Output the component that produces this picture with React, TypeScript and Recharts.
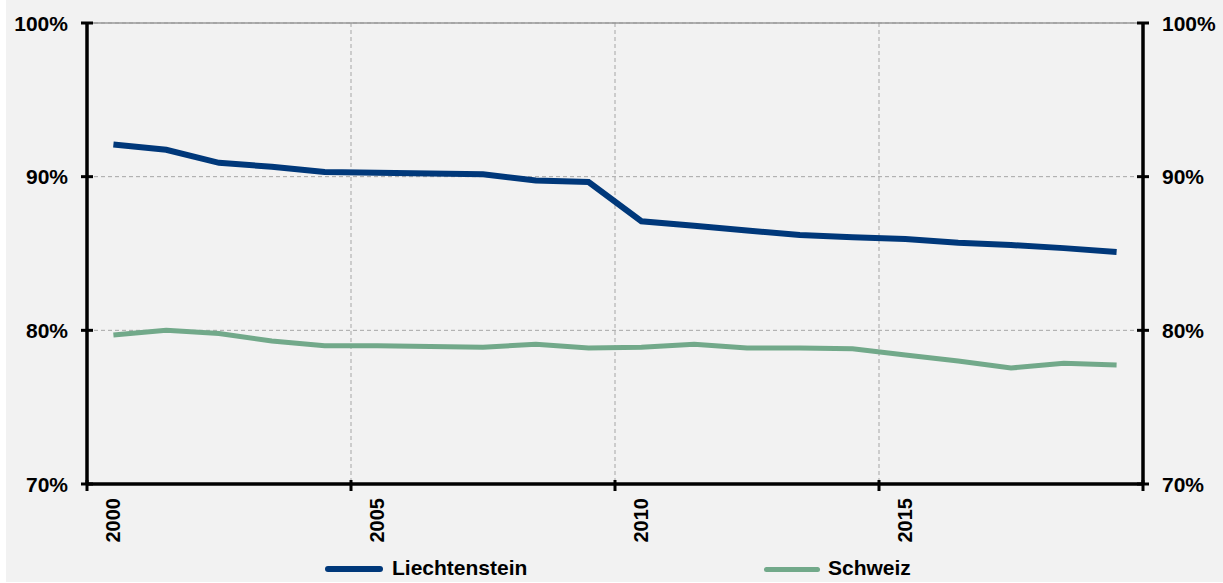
import React from 'react';
import { LineChart, Line, XAxis, YAxis, CartesianGrid, Legend, ReferenceLine } from 'recharts';

const years = [2000, 2001, 2002, 2003, 2004, 2005, 2006, 2007, 2008, 2009, 2010, 2011, 2012, 2013, 2014, 2015, 2016, 2017, 2018, 2019];
const liechtenstein = [92.1, 91.75, 90.9, 90.65, 90.3, 90.25, 90.2, 90.15, 89.75, 89.65, 87.1, 86.8, 86.5, 86.2, 86.05, 85.95, 85.7, 85.55, 85.35, 85.1];
const schweiz = [79.7, 80.0, 79.8, 79.3, 79.0, 79.0, 78.95, 78.9, 79.1, 78.85, 78.9, 79.1, 78.85, 78.85, 78.8, 78.4, 78.0, 77.55, 77.85, 77.75];
const yTicks = [70, 80, 90, 100];
const xBoundaryTicks = [1999.5, 2004.5, 2009.5, 2014.5, 2019.5];
const xLabelYears = [2000, 2005, 2010, 2015];
const seriesNames = ['Liechtenstein', 'Schweiz'];

const data = years.map((y, i) => ({ year: y, li: liechtenstein[i], ch: schweiz[i] }));

const W = 1217;
const H = 582;
const MARGIN = { top: 23, right: 5, bottom: 0, left: 6 };
const Y_W = 75;
const PLOT_W = W - MARGIN.left - MARGIN.right - 2 * Y_W;
const HALF_BAND = PLOT_W / years.length / 2;

const FONT = "'Liberation Sans', Arial, sans-serif";
const COLOR_LI = '#00387A';
const COLOR_CH = '#72A98A';
const GRID = '#A6A6A6';

const Y_MARGIN = 19;
const X_MARGIN = 14;

const LeftTick = (props: any) => {
  const { x, y, payload } = props;
  const ax = x + Y_MARGIN;
  return (
    <g>
      <line x1={ax - 6} x2={ax + 6} y1={y} y2={y} stroke="#000" strokeWidth={3} />
      <text x={x} y={y} dy="0.36em" textAnchor="end" fontFamily={FONT} fontWeight="bold" fontSize={21} fill="#000">
        {payload.value}%
      </text>
    </g>
  );
};

const RightTick = (props: any) => {
  const { x, y, payload } = props;
  const ax = x - Y_MARGIN;
  return (
    <g>
      <line x1={ax - 6} x2={ax + 6} y1={y} y2={y} stroke="#000" strokeWidth={3} />
      <text x={x} y={y} dy="0.36em" textAnchor="start" fontFamily={FONT} fontWeight="bold" fontSize={21} fill="#000">
        {payload.value}%
      </text>
    </g>
  );
};

const BottomTick = (props: any) => {
  const { x, y, payload } = props;
  const ay = y - X_MARGIN;
  const label = payload.value + 0.5;
  const show = xLabelYears.includes(label);
  const lx = x + HALF_BAND;
  return (
    <g>
      <line x1={x} x2={x} y1={ay - 4} y2={ay + 7} stroke="#000" strokeWidth={3} />
      {show && (
        <text
          x={lx}
          y={y}
          transform={`rotate(-90, ${lx}, ${y})`}
          textAnchor="end"
          dominantBaseline="central"
          fontFamily={FONT}
          fontWeight="bold"
          fontSize={20}
          fill="#000"
        >
          {label}
        </text>
      )}
    </g>
  );
};

const LegendBox = () => {
  const items = [
    { name: seriesNames[0], color: COLOR_LI, lineLeft: 319, lineW: 58, textLeft: 386, thick: 6 },
    { name: seriesNames[1], color: COLOR_CH, lineLeft: 758, lineW: 56, textLeft: 822, thick: 5 },
  ];
  return (
    <div style={{ position: 'relative', width: W, height: 30 }}>
      {items.map((it) => (
        <React.Fragment key={it.name}>
          <div
            style={{
              position: 'absolute',
              left: it.lineLeft,
              top: 17 - it.thick / 2,
              width: it.lineW,
              height: it.thick,
              borderRadius: it.thick / 2,
              background: it.color,
            }}
          />
          <div
            style={{
              position: 'absolute',
              left: it.textLeft,
              top: 0,
              height: 32,
              lineHeight: '32px',
              fontFamily: FONT,
              fontWeight: 'bold',
              fontSize: 21,
              color: '#000',
              whiteSpace: 'nowrap',
            }}
          >
            {it.name}
          </div>
        </React.Fragment>
      ))}
    </div>
  );
};

export default function App() {
  return (
    <div style={{ position: 'absolute', left: 6, top: 0, width: W, height: H, background: '#F2F2F2' }}>
      <LineChart width={W} height={H} data={data} margin={MARGIN}>
        <CartesianGrid stroke={GRID} strokeDasharray="4 3" strokeWidth={1} />
        <ReferenceLine y={100} stroke="#999" strokeWidth={1.5} />
        <XAxis
          dataKey="year"
          type="number"
          domain={[1999.5, 2019.5]}
          ticks={xBoundaryTicks}
          allowDataOverflow
          interval={0}
          height={68}
          tickSize={0}
          tickMargin={X_MARGIN}
          tickLine={false}
          axisLine={{ stroke: '#000', strokeWidth: 3.5 }}
          tick={<BottomTick />}
        />
        <YAxis
          yAxisId={0}
          domain={[70, 100]}
          ticks={yTicks}
          allowDataOverflow
          interval={0}
          width={Y_W}
          tickSize={0}
          tickMargin={Y_MARGIN}
          tickLine={false}
          axisLine={{ stroke: '#000', strokeWidth: 3.5 }}
          tick={<LeftTick />}
        />
        <YAxis
          yAxisId="right"
          orientation="right"
          domain={[70, 100]}
          ticks={yTicks}
          allowDataOverflow
          interval={0}
          width={Y_W}
          tickSize={0}
          tickMargin={Y_MARGIN}
          tickLine={false}
          axisLine={{ stroke: '#000', strokeWidth: 3.5 }}
          tick={<RightTick />}
        />
        <Legend
          verticalAlign="bottom"
          content={() => <LegendBox />}
          wrapperStyle={{ left: 0, bottom: 0, width: W, height: 30 }}
        />
        <Line
          yAxisId="right"
          type="linear"
          dataKey="li"
          stroke="none"
          strokeWidth={0}
          dot={false}
          activeDot={false}
          legendType="none"
          isAnimationActive={false}
        />
        <Line
          type="linear"
          dataKey="li"
          name={seriesNames[0]}
          stroke={COLOR_LI}
          strokeWidth={6}
          dot={false}
          activeDot={false}
          isAnimationActive={false}
        />
        <Line
          type="linear"
          dataKey="ch"
          name={seriesNames[1]}
          stroke={COLOR_CH}
          strokeWidth={5}
          dot={false}
          activeDot={false}
          isAnimationActive={false}
        />
      </LineChart>
    </div>
  );
}
